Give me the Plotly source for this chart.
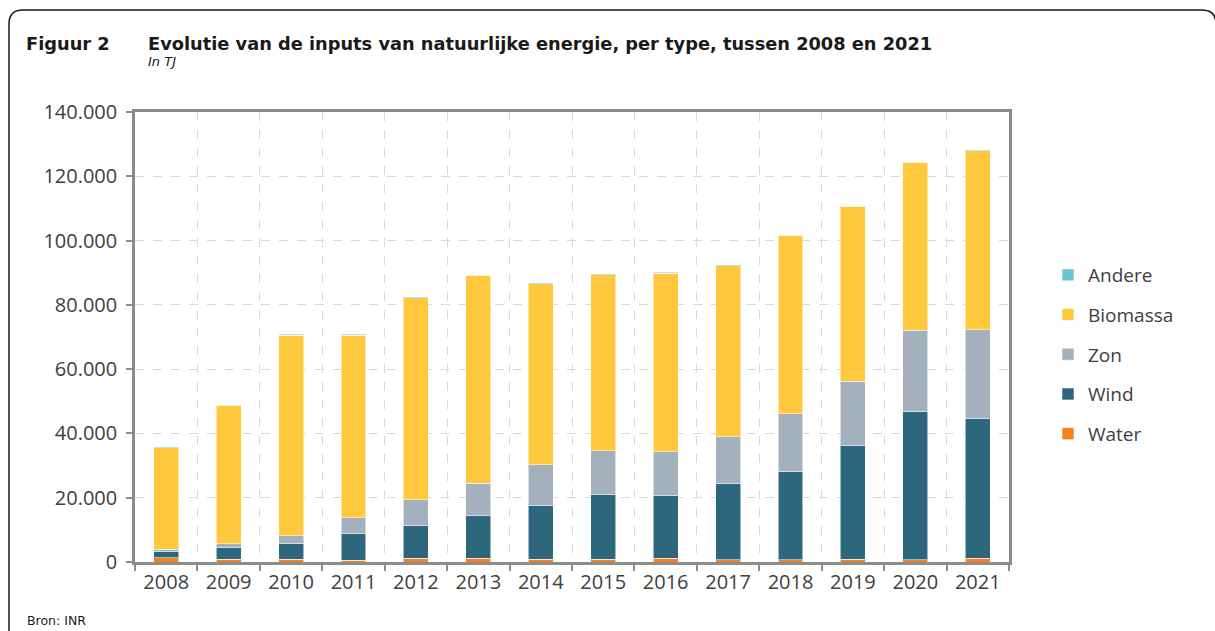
import plotly.graph_objects as go

# data (TJ)
years = ["2008", "2009", "2010", "2011", "2012", "2013", "2014",
         "2015", "2016", "2017", "2018", "2019", "2020", "2021"]
water = [1250, 800, 800, 500, 1100, 1100, 800, 800, 1100, 700, 700, 900, 700, 1200]
wind = [2150, 3650, 4900, 8300, 10200, 13300, 16700, 20100, 19500, 23700, 27400, 35200, 46200, 43300]
zon = [600, 1250, 2500, 5000, 8100, 10100, 12700, 13700, 13700, 14600, 18000, 20200, 25200, 27800]
biomassa = [31600, 43100, 62300, 56800, 62800, 64700, 56400, 54800, 55600, 53100, 55500, 54400, 52300, 55600]
andere = [200, 200, 300, 300, 200, 200, 200, 200, 200, 200, 200, 200, 200, 200]

series = [
    ("Water", water, "#F4811F"),
    ("Wind", wind, "#2D677E"),
    ("Zon", zon, "#A5B0BD"),
    ("Biomassa", biomassa, "#FFC83D"),
    ("Andere", andere, "#6CC4D3"),
]

W, H = 1215, 631
L, R, T, B = 135, 1009, 112, 562


def px(x):
    return (x - L) / (R - L)


def py(y):
    return (B - y) / (B - T)


fig = go.Figure()
for i, (name, vals, col) in enumerate(series):
    fig.add_trace(go.Bar(
        x=years, y=vals, name=name, legendgroup=name, legendrank=len(series) - i,
        marker=dict(color=col, line=dict(color="rgba(255,255,255,0.55)", width=1)),
    ))

grid = "#D9D9D9"
axis_col = "#8C8C8C"
txt = "#404040"

fig.update_layout(
    width=W, height=H,
    barmode="stack", bargap=0.6,
    separators=",.",
    plot_bgcolor="white", paper_bgcolor="white",
    margin=dict(l=L, r=W - R, t=T, b=H - B, autoexpand=False),
    font=dict(family="Open Sans, Noto Sans, sans-serif", size=20, color=txt),
    showlegend=True,
    legend=dict(
        x=px(1048), y=py(256), xanchor="left", yanchor="top",
        traceorder="grouped", tracegroupgap=12,
        font=dict(size=19, color=txt),
        itemwidth=30, bgcolor="rgba(0,0,0,0)",
    ),
    xaxis=dict(
        type="category", tickson="boundaries",
        showgrid=True, gridcolor=grid, griddash="dash", gridwidth=1,
        showline=True, linecolor=axis_col, linewidth=2.5, mirror=True,
        ticks="outside", ticklen=6, tickcolor=axis_col, tickwidth=2,
        tickfont=dict(size=20, color=txt),
    ),
    yaxis=dict(
        range=[0, 140000], dtick=20000, tickformat=",d",
        showgrid=True, gridcolor=grid, griddash="dash", gridwidth=1,
        showline=True, linecolor=axis_col, linewidth=2.5, mirror=True,
        ticks="outside", ticklen=6, tickcolor=axis_col, tickwidth=2,
        tickfont=dict(size=20, color=txt), zeroline=False,
        ticklabelstandoff=5,
    ),
)

# rounded frame round the whole figure
x0, y0, rad = 9, 10, 14
x1 = 1216
path = (f"M {px(x0)},{py(640)} L {px(x0)},{py(y0 + rad)} "
        f"Q {px(x0)},{py(y0)} {px(x0 + rad)},{py(y0)} "
        f"L {px(x1 - rad)},{py(y0)} Q {px(x1)},{py(y0)} {px(x1)},{py(y0 + rad)}")
fig.add_shape(type="path", path=path, xref="paper", yref="paper",
              line=dict(color="#1A1A1A", width=1.5), layer="above")

# titles and source
title_font = dict(family="DejaVu Sans", size=17.8, color="#1A1A1A")
fig.add_annotation(text="<b>Figuur 2</b>", x=px(24), y=py(44), xref="paper", yref="paper",
                   xanchor="left", yanchor="middle", showarrow=False, font=title_font)
fig.add_annotation(text="<b>Evolutie van de inputs van natuurlijke energie, per type, tussen 2008 en 2021</b>",
                   x=px(146), y=py(44), xref="paper", yref="paper",
                   xanchor="left", yanchor="middle", showarrow=False, font=title_font)
fig.add_annotation(text="<i>In TJ</i>", x=px(146), y=py(62), xref="paper", yref="paper",
                   xanchor="left", yanchor="middle", showarrow=False,
                   font=dict(family="DejaVu Sans", size=13, color="#1A1A1A"))
fig.add_annotation(text="Bron: INR", x=px(25), y=py(620), xref="paper", yref="paper",
                   xanchor="left", yanchor="middle", showarrow=False,
                   font=dict(family="DejaVu Sans", size=12.5, color="#1A1A1A"))

# the page's default body margin would push the figure 8px down and right
fig.write_html("out.html", config={"displayModeBar": False},
               post_script="document.body.style.margin='0px';")
